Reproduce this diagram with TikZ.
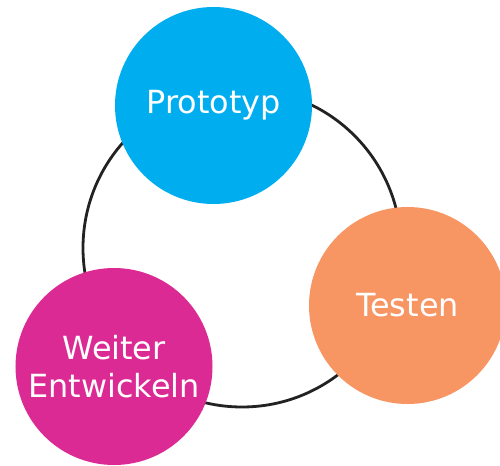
\documentclass[tikz,border=0pt]{standalone}
\usepackage{fontspec}
\setmainfont{DejaVu Sans}
\usepackage{tikz}
\definecolor{CycBlue}{HTML}{00AEEF}
\definecolor{CycOrange}{HTML}{F79563}
\definecolor{CycMagenta}{HTML}{DB2A94}
\definecolor{CycRing}{HTML}{222222}
\begin{document}
\begin{tikzpicture}[
        x=1bp,y=-1bp,
        phase/.style={circle,minimum size=197bp,inner sep=0pt,text=white,align=center,font=\fontsize{32}{38}\selectfont},
        ring/.style={draw=CycRing,line width=2.8bp}
      ]
        \useasboundingbox (0,0) rectangle (500,466);
        \draw[ring] (242,248) circle[radius=159bp];
        \node[phase,fill=CycBlue] (proto) at (213.5,105.5) {Prototyp};
        \node[phase,fill=CycOrange] (test) at (407.5,305.5) {Testen};
        \node[phase,fill=CycMagenta] (dev) at (114,366.5) {Weiter\\Entwickeln};
      \end{tikzpicture}
\end{document}
